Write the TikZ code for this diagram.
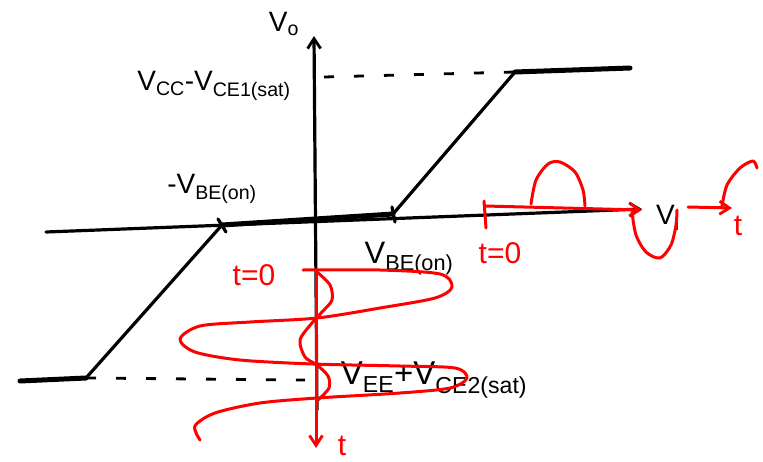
\documentclass[tikz,border=0pt]{standalone}
\usepackage{fontspec}
\setmainfont{Liberation Sans}
\usetikzlibrary{arrows.meta}
\tikzset{
  ink/.style={line width=3.2pt, line cap=round, line join=round, black},
  thick ink/.style={line width=5pt, line cap=round, black},
  red ink/.style={line width=3pt, line cap=round, line join=round, red},
  guide/.style={line width=2.8pt, dash pattern=on 10pt off 20pt, black},
  lbl/.style={font=\fontsize{28}{30}\selectfont, inner sep=0pt},
  rlbl/.style={font=\fontsize{30}{32}\selectfont, inner sep=0pt, text=red},
  tip/.style={-{Straight Barb[length=10pt,width=13pt,line width=2.8pt]}}
}
\newcommand{\lowtxt}[1]{\textsubscript{#1}}
\begin{document}
\begin{tikzpicture}[x=1pt,y=-1pt]
\useasboundingbox (0,0) rectangle (763,461);
% axes
\coordinate (vbot) at (317,410);
\coordinate (vtop) at (314,36);
\draw[ink,tip] (vbot) -- (vtop);
\coordinate (hl) at (46,232);
\coordinate (hr) at (642,209);
\draw[ink,tip] (hl) -- (hr);
% transfer curve
\coordinate (a0) at (20,381);
\coordinate (a1) at (86,378);
\coordinate (a2) at (222,225);
\coordinate (a3) at (393,214);
\coordinate (a4) at (515,72);
\coordinate (a5) at (630,68);
\draw[thick ink] (a0) -- (a1);
\draw[ink] (a1) -- (a2);
\draw[thick ink] (a2) -- (a3);
\draw[ink] (a3) -- (a4);
\draw[thick ink] (a4) -- (a5);
% tick marks
\draw[ink] (218,219) -- (226,232);
\draw[ink] (392,207) -- (395,222);
% dashed guides
\coordinate (d1) at (324,77);
\draw[guide] (d1) -- (a4);
\coordinate (d2) at (305,380);
\draw[guide] (a1) -- (d2);
% labels
\node[lbl] (vo) at (284,24) {V\lowtxt{o}};
\node[lbl] (vcc) at (214,86) {V\lowtxt{CC}-V\lowtxt{CE1(sat)}};
\node[lbl] (mvbe) at (212,189) {-V\lowtxt{BE(on)}};
\node[lbl,font=\fontsize{31}{33}\selectfont] (vbe) at (409,259) {V\lowtxt{BE(on)}};
\node[lbl,font=\fontsize{33}{35}\selectfont] (vee) at (434,380) {V\lowtxt{EE}+V\lowtxt{CE2(sat)}};
\node[lbl] (vi) at (668,218) {V\lowtxt{i}};
% red input waveform
\draw[red ink] (484,201) -- (486,228);
\coordinate (ri0) at (485,206);
\coordinate (ri1) at (642,210);
\draw[red ink,tip] (ri0) -- (ri1);
\draw[red ink] plot[smooth] coordinates {(531,204) (536,180) (548,164) (560,162) (575,172) (583,190) (585,206)};
\draw[red ink] plot[smooth] coordinates {(632,212) (636,235) (646,252) (660,258) (671,245) (676,225) (677,210)};
\coordinate (rj0) at (688,207);
\coordinate (rj1) at (732,208);
\draw[red ink,tip] (rj0) -- (rj1);
\draw[red ink] plot[smooth] coordinates {(722,206) (727,185) (740,168) (753,161) (757,168)};
\node[rlbl] (t0a) at (500,253) {t=0};
\node[rlbl] (ta) at (738,226) {t};
% red output waveform
\coordinate (to0) at (316,270);
\coordinate (to1) at (316,448);
\draw[red ink,tip] (to0) -- (to1);
\draw[red ink] plot[smooth] coordinates {(303,270) (380,270) (440,274) (452,287) (435,298) (380,308) (317,318) (250,322) (200,326) (180,339) (195,352) (240,360) (313,364) (400,366) (455,368) (467,378) (450,388) (400,393) (317,398) (260,403) (215,413) (195,426) (200,440)};
\draw[red ink] plot[smooth] coordinates {(317,272) (330,285) (332,300) (322,312) (312,323) (300,340) (305,357) (317,365) (328,376) (329,388) (318,400)};
\node[rlbl] (t0b) at (254,275) {t=0};
\node[rlbl] (tb) at (342,446) {t};
\end{tikzpicture}
\end{document}
